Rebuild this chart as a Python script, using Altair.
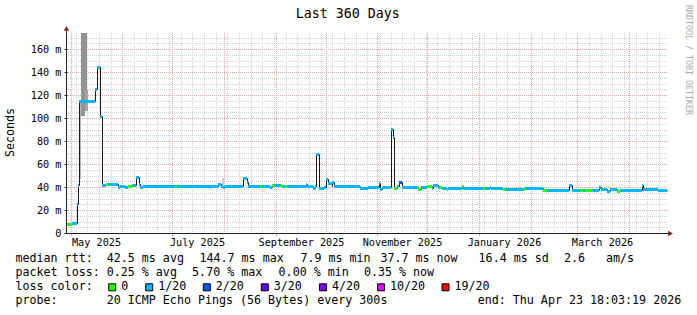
import altair as alt
import pandas as pd
from datetime import datetime, timedelta, timezone

UTC = timezone.utc
END = datetime(2026, 4, 23, 18, 3, 19, tzinfo=UTC)
START = END - timedelta(days=360)

# ---------------- data ----------------
# median rtt, step starts in days after START, value in ms, loss bucket
MED_DAY = [0, 3.0, 5.8, 6.8, 7.4, 16.6, 18.2, 19.8, 20.8, 23.4, 24.8, 30.6, 31.8, 34.8,
           36.6, 38.8, 41.4, 43.0, 43.8, 45.6, 64.8, 66.2, 90.6, 92.2, 93.4, 94.8, 105.8,
           107.8, 108.6, 115.8, 116.8, 121.8, 123.0, 124.0, 127.8, 128.8, 130.8, 131.8,
           143.2, 144.0, 147.8, 148.8, 149.6, 151.0, 154.2, 155.4, 156.8, 158.8, 159.2,
           160.2, 175.8, 180.8, 187.2, 187.8, 188.8, 194.4, 195.8, 196.4, 197.8, 199.4,
           200.8, 209.8, 210.8, 212.4, 215.8, 218.8, 219.8, 222.8, 223.8, 224.8, 227.8,
           228.8, 236.8, 237.6, 249.8, 250.8, 253.8, 254.2, 261.8, 262.8, 273.8, 274.8,
           285.8, 287.8, 301.4, 302.8, 307.8, 309.6, 310.8, 314.8, 319.4, 320.4, 323.8,
           325.8, 329.8, 331.8, 344.8, 345.8, 353.8, 354.6]
MED_MS = [7.8, 8.6, 25.0, 42.0, 114.5, 125.5, 144.7, 102.0, 42.0, 43.0, 42.6, 39.8, 41.0, 40.4,
          41.0, 41.5, 48.4, 42.5, 40.0, 41.0, 41.0, 41.0, 42.5, 41.0, 40.0, 41.0, 47.5,
          44.0, 41.0, 41.0, 41.0, 39.8, 42.0, 42.0, 41.5, 41.0, 40.5, 40.5,
          42.3, 40.5, 39.0, 40.5, 68.5, 39.0, 40.0, 47.0, 43.8, 40.5, 44.0,
          41.0, 39.3, 40.3, 43.8, 38.0, 40.3, 90.4, 83.2, 38.8, 41.0, 44.6,
          40.3, 40.0, 38.5, 40.3, 41.0, 39.0, 42.0, 40.3, 40.0, 39.4, 38.5,
          39.0, 40.6, 39.4, 39.4, 39.4, 40.0, 38.8, 38.5, 38.5, 38.3, 38.7,
          37.4, 37.4, 41.7, 37.4, 37.4, 37.6, 37.4, 37.4, 40.0, 38.5, 36.8,
          38.3, 36.8, 37.4, 41.7, 38.6, 38.0, 37.4]
MED_LOSS = ["0", "1/20", "1/20", "1/20", "1/20", "1/20", "1/20", "1/20", "1/20", "0", "1/20", "1/20", "1/20", "1/20",
            "0", "1/20", "1/20", "1/20", "1/20", "1/20", "0", "1/20", "1/20", "1/20", "1/20", "1/20", "1/20",
            "1/20", "1/20", "0", "1/20", "1/20", "0", "1/20", "0", "1/20", "0", "1/20",
            "1/20", "1/20", "1/20", "1/20", "1/20", "1/20", "1/20", "1/20", "1/20", "1/20", "1/20",
            "1/20", "1/20", "1/20", "1/20", "1/20", "1/20", "1/20", "1/20", "0", "1/20", "2/20",
            "1/20", "0", "0", "1/20", "0", "1/20", "1/20", "1/20", "0", "1/20", "0",
            "1/20", "0", "1/20", "0", "1/20", "1/20", "1/20", "0", "1/20", "0", "1/20",
            "0", "1/20", "1/20", "1/20", "0", "1/20", "0", "1/20", "1/20", "1/20", "1/20",
            "1/20", "0", "1/20", "1/20", "1/20", "1/20", "1/20"]

# smoke (spread of the pings), days after START, ms, density level
SMOKE_DAY0 = [7.0, 8.6, 10.8, 10.8, 93.0]
SMOKE_DAY1 = [8.6, 10.8, 12.2, 12.8, 94.2]
SMOKE_LO = [47.0, 102.0, 124.0, 106.0, 40.0]
SMOKE_HI = [114.0, 180.0, 180.0, 124.0, 47.5]
SMOKE_LVL = ["b", "d", "d", "c", "a"]

LOSS_LABELS = ["0", "1/20", "2/20", "3/20", "4/20", "10/20", "19/20"]
LOSS_COLORS = ["#26ff00", "#00b8ff", "#0059ff", "#5e00ff", "#7e00ff", "#dd00ff", "#ff0000"]

TITLE = "Last 360 Days"
Y_TITLE = "Seconds"
WATERMARK = "RRDTOOL / TOBI OETIKER"
Y_TICKS = [0, 20, 40, 60, 80, 100, 120, 140, 160]
LABEL_MONTHS = [(2025, 5), (2025, 7), (2025, 9), (2025, 11), (2026, 1), (2026, 3)]

RTT_HEAD = "median rtt:"
RTT_STATS = ["42.5 ms avg", "144.7 ms max", "7.9 ms min", "37.7 ms now", "16.4 ms sd", "2.6   am/s"]
LOSS_HEAD = "packet loss:"
LOSS_STATS = ["0.25 % avg", "5.70 % max", "0.00 % min", "0.35 % now"]
COLOR_HEAD = "loss color:"
PROBE_HEAD = "probe:"
PROBE_TEXT = "20 ICMP Echo Pings (56 Bytes) every 300s"
END_TEXT = "end: Thu Apr 23 18:03:19 2026"

# ---------------- helpers ----------------
FONT = "DejaVu Sans Mono"
PX0, PY0 = 67, 33          # plot origin in the page
W, H = 600, 200
YMAX = 200 / 1.15
AXIS_C = "#1f1f1f"
ARROW_C = "#8b1a1a"
GRID_MINOR = "#d2d2d2"
GRID_MAJOR = "#eaa6a6"
LEG_FS = 11.66
AX_FS = 10.2
NBSP = "\u00a0"


def keep_spaces(s):
    return s.replace(" ", NBSP)


def ms(dt):
    return int(dt.timestamp() * 1000)


def day_ms(d):
    return ms(START + timedelta(days=d))


xscale = alt.Scale(type="utc", domain=[day_ms(0), day_ms(360)], nice=False, round=True)
yscale = alt.Scale(domain=[0, YMAX], nice=False, zero=False, round=True)

label_ts = [ms(datetime(y, m, 16, tzinfo=UTC)) for y, m in LABEL_MONTHS]
label_tick_ts = [ms(datetime(y, m, 1, tzinfo=UTC)) for y, m in LABEL_MONTHS]

xaxis = alt.Axis(values=label_ts, labelExpr="utcFormat(datum.value, '%B %Y')", title=None,
                 grid=False, domain=False, ticks=False, tickSize=0, labelFont=FONT,
                 labelFontSize=AX_FS, labelColor="#000000", labelPadding=9,
                 labelBaseline="middle", labelAlign="center", labelFlush=False,
                 labelOverlap=False, labelBound=False)
yaxis = alt.Axis(values=Y_TICKS, labelExpr="datum.value == 0 ? '0' : datum.value + ' m'",
                 title=None, grid=False, domain=False, ticks=True, tickSize=3,
                 tickColor=AXIS_C, labelFont=FONT, labelFontSize=AX_FS,
                 labelColor="#000000", labelPadding=3, labelFlush=False,
                 labelOverlap=False, labelBound=False)


def X(f):
    return alt.X(f, type="temporal", scale=xscale, axis=xaxis)


def Y(f):
    return alt.Y(f, type="quantitative", scale=yscale, axis=yaxis)


ONE = alt.Data(values=[{"a": 1}])

# grid positions
month_starts = []
y, m = START.year, START.month
while True:
    m += 1
    if m > 12:
        m, y = 1, y + 1
    d = datetime(y, m, 1, tzinfo=UTC)
    if d >= END:
        break
    month_starts.append(ms(d))
sundays = []
d = datetime(START.year, START.month, START.day, tzinfo=UTC) + timedelta(days=(6 - START.weekday()) % 7)
if d <= START:
    d += timedelta(days=7)
while d < END:
    sundays.append(ms(d))
    d += timedelta(days=7)
minor_y = [v for v in range(5, int(YMAX) + 1, 5) if v % 20]
major_y = [v for v in range(20, int(YMAX) + 1, 20)]

layers = []
layers.append(alt.Chart(pd.DataFrame({"t": sundays})).mark_rule(
    color=GRID_MINOR, strokeDash=[1, 1], strokeWidth=1, xOffset=0.5).encode(x=X("t")))
layers.append(alt.Chart(pd.DataFrame({"v": minor_y})).mark_rule(
    color=GRID_MINOR, strokeDash=[1, 1], strokeWidth=1, yOffset=0.5).encode(y=Y("v")))
layers.append(alt.Chart(pd.DataFrame({"t": month_starts})).mark_rule(
    color=GRID_MAJOR, strokeDash=[1, 1], strokeWidth=1, xOffset=0.5).encode(x=X("t")))
layers.append(alt.Chart(pd.DataFrame({"v": major_y})).mark_rule(
    color=GRID_MAJOR, strokeDash=[1, 1], strokeWidth=1, yOffset=0.5).encode(y=Y("v")))

# smoke
smoke = pd.DataFrame({"t": [day_ms(v) for v in SMOKE_DAY0], "t2": [day_ms(v) for v in SMOKE_DAY1],
                      "lo": SMOKE_LO, "hi": SMOKE_HI, "lvl": SMOKE_LVL})
layers.append(alt.Chart(smoke).mark_rect(clip=True, opacity=1).encode(
    x=X("t"), x2="t2", y=Y("lo"), y2="hi",
    fill=alt.Fill("lvl:N", scale=alt.Scale(domain=["a", "b", "c", "d"],
                                           range=["#cccccc", "#b4b4b4", "#a4a4a4", "#939393"]),
                  legend=None)))

# median: dark step line, then coloured loss segments
line_df = pd.DataFrame({"t": [day_ms(v) for v in MED_DAY] + [day_ms(360)],
                        "v": MED_MS + [MED_MS[-1]]})
layers.append(alt.Chart(line_df).mark_line(interpolate="step-after", color="#1a1a1a",
                                           strokeWidth=1, xOffset=0.5, yOffset=0.5).encode(
    x=X("t"), y=Y("v")))
seg_df = pd.DataFrame({"t": [day_ms(v) for v in MED_DAY],
                       "t2": [day_ms(v) for v in MED_DAY[1:]] + [day_ms(360)],
                       "v": MED_MS, "loss": MED_LOSS})
layers.append(alt.Chart(seg_df).mark_rule(strokeWidth=3, yOffset=0.5).encode(
    x=X("t"), x2="t2", y=Y("v"),
    color=alt.Color("loss:N", scale=alt.Scale(domain=LOSS_LABELS, range=LOSS_COLORS), legend=None)))

# month ticks under the x axis
layers.append(alt.Chart(pd.DataFrame({"t": label_tick_ts})).mark_rule(
    color=GRID_MAJOR, strokeWidth=1, xOffset=0.5).encode(
    x=X("t"), y=alt.value(H), y2=alt.value(H + 3)))

# axis lines and arrows
layers.append(alt.Chart(ONE).mark_rule(color=AXIS_C, strokeWidth=1).encode(
    x=alt.value(-0.5), x2=alt.value(602), y=alt.value(H + 0.5)))
layers.append(alt.Chart(ONE).mark_rule(color=AXIS_C, strokeWidth=1).encode(
    x=alt.value(-0.5), y=alt.value(-2), y2=alt.value(H + 0.5)))
layers.append(alt.Chart(ONE).mark_point(shape="triangle-right", filled=True, size=30,
                                        color=ARROW_C, opacity=1).encode(
    x=alt.value(603.5), y=alt.value(H + 0.5)))
layers.append(alt.Chart(ONE).mark_point(shape="triangle-up", filled=True, size=30,
                                        color=ARROW_C, opacity=1).encode(
    x=alt.value(-0.5), y=alt.value(-4.5)))


def txt(s, x, y, size=LEG_FS, align="left", angle=0, color="#000000"):
    return alt.Chart(ONE).mark_text(text=keep_spaces(s), align=align, baseline="middle", font=FONT,
                                    fontSize=size, color=color, angle=angle).encode(
        x=alt.value(x - PX0), y=alt.value(y - PY0))


layers.append(txt(TITLE, 347.7, 14, size=13.3, align="center"))
layers.append(txt(Y_TITLE, 11, 132.5, align="center", angle=270))
layers.append(txt(WATERMARK, 688, 60, size=8.3, align="center", angle=90, color="#aaaaaa"))

# legend lines
L1, L2, L3, L4 = 259.3, 273.3, 287.3, 301.0
rtt_x = [200, 300.9, 380.9, 479.1, 564.4]
layers.append(txt(RTT_HEAD + "  " + RTT_STATS[0], 15.5, L1))
for s, x in zip(RTT_STATS[1:], rtt_x):
    layers.append(txt(s, x - 0.5, L1))
loss_x = [192.6, 279.1, 364.4]
layers.append(txt(LOSS_HEAD + " " + LOSS_STATS[0], 15.5, L2))
for s, x in zip(LOSS_STATS[1:], loss_x):
    layers.append(txt(s, x - 0.5, L2))
layers.append(txt(COLOR_HEAD, 15.5, L3))
box_x = [108.7, 145.7, 203.3, 261.3, 319.5, 377.5, 442.0]
for lab, col, bx in zip(LOSS_LABELS, LOSS_COLORS, box_x):
    layers.append(alt.Chart(ONE).mark_square(size=49, fill=col, stroke="#000000",
                                             strokeWidth=1, opacity=1).encode(
        x=alt.value(bx + 3.5 - PX0), y=alt.value(L3 - PY0)))
    layers.append(txt(lab, bx + 12.5, L3))
layers.append(txt(PROBE_HEAD, 15.5, L4))
layers.append(txt(PROBE_TEXT, 106.7, L4))
layers.append(txt(END_TEXT, 477.7, L4))

chart = alt.layer(*layers).properties(
    width=W, height=H,
    autosize=alt.AutoSizeParams(type="none"),
    padding={"left": PX0, "top": PY0, "right": 697 - PX0 - W, "bottom": 315 - PY0 - H},
    background="#ffffff",
).configure_view(stroke=None)

chart.save("out.html", embed_options={"renderer": "svg", "actions": False})
